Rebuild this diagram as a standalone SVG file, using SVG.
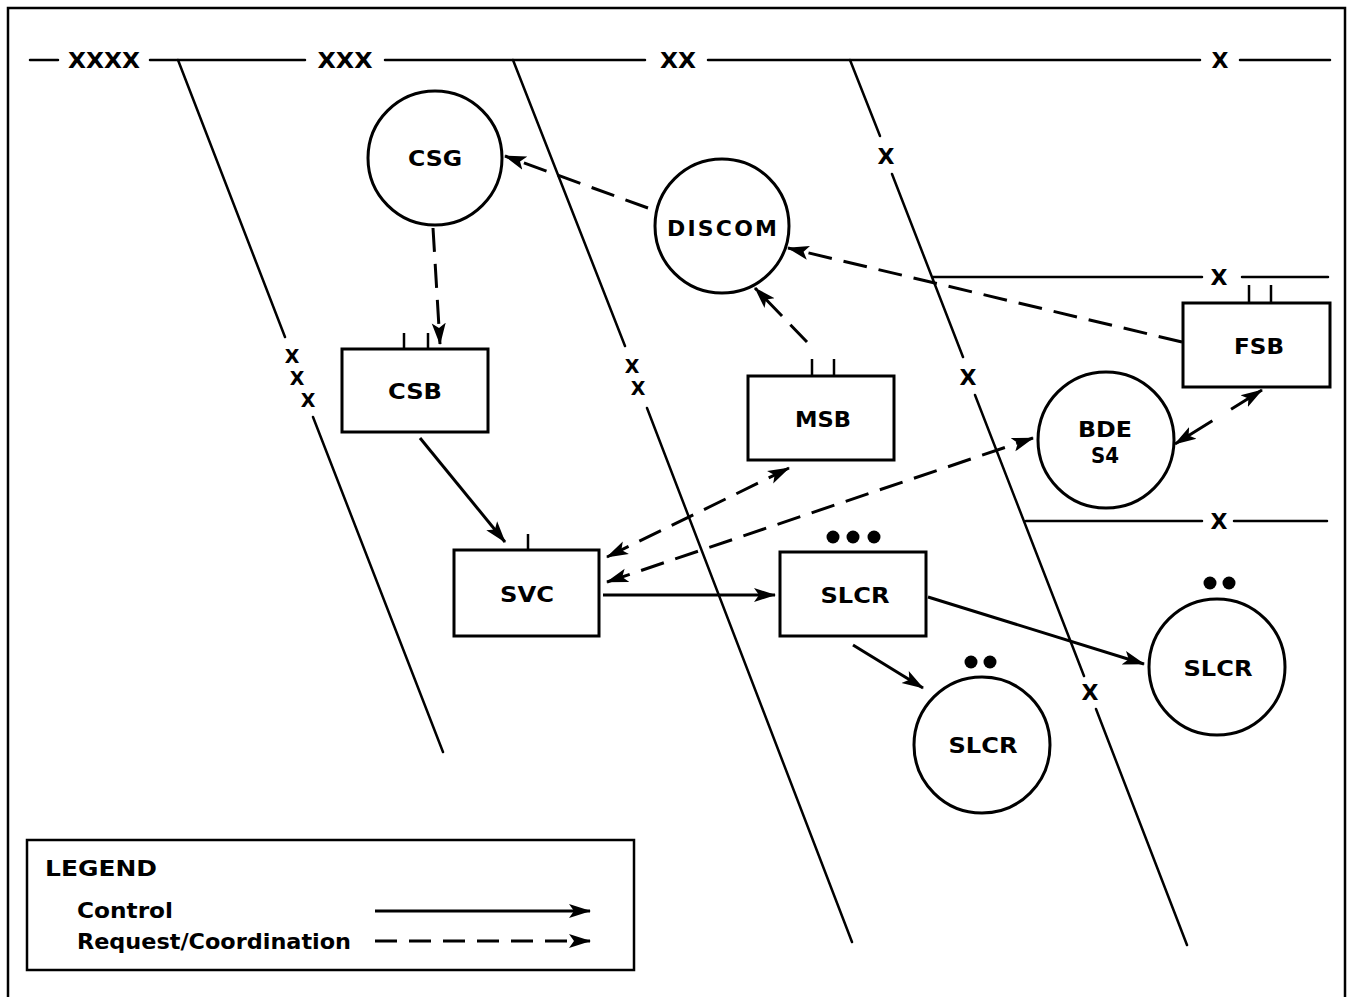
<svg xmlns="http://www.w3.org/2000/svg" width="1354" height="997" viewBox="0 0 1354 997">
<style>
.frame{fill:none;stroke:#000;stroke-width:2.5}
.bnd{fill:none;stroke:#000;stroke-width:2.5;stroke-linecap:round}
.node{fill:#fff;stroke:#000;stroke-width:3}
.tick{stroke:#000;stroke-width:2.5}
.dot{fill:#000}
.lbl{font-family:"DejaVu Sans","Liberation Sans",Arial,sans-serif;font-weight:bold;font-size:22px;text-anchor:middle;fill:#000}
.mk{font-family:"DejaVu Sans","Liberation Sans",Arial,sans-serif;font-weight:bold;font-size:22px;text-anchor:middle;fill:#000}
.mks{font-family:"DejaVu Sans","Liberation Sans",Arial,sans-serif;font-weight:bold;font-size:19px;text-anchor:middle;fill:#000}
.leg{font-family:"DejaVu Sans","Liberation Sans",Arial,sans-serif;font-weight:bold;font-size:21px;fill:#000}
.ctl{fill:none;stroke:#000;stroke-width:3;marker-end:url(#ah)}
.req{fill:none;stroke:#000;stroke-width:3;stroke-dasharray:24 12;marker-end:url(#ah)}
.req2{fill:none;stroke:#000;stroke-width:3;stroke-dasharray:24 12;marker-end:url(#ah);marker-start:url(#ah)}
</style>
<defs>
<marker id="ah" markerUnits="userSpaceOnUse" markerWidth="24" markerHeight="16" refX="21" refY="8" orient="auto-start-reverse" viewBox="0 0 24 16">
<path d="M0,1 L22,8 L0,15 L5,8 z" fill="#000"/>
</marker>
</defs>
<rect width="1354" height="997" fill="#fff"/>
<rect class="frame" x="8" y="8" width="1337" height="1010"/>

<g id="boundaries">
<line class="bnd" x1="30" y1="60" x2="58" y2="60"/>
<text class="mk" x="104" y="68" textLength="72" lengthAdjust="spacingAndGlyphs">XXXX</text>
<line class="bnd" x1="150" y1="60" x2="305" y2="60"/>
<text class="mk" x="345" y="68" textLength="55" lengthAdjust="spacingAndGlyphs">XXX</text>
<line class="bnd" x1="385" y1="60" x2="645" y2="60"/>
<text class="mk" x="678" y="68" textLength="36" lengthAdjust="spacingAndGlyphs">XX</text>
<line class="bnd" x1="708" y1="60" x2="1200" y2="60"/>
<text class="mk" x="1220" y="68">X</text>
<line class="bnd" x1="1240" y1="60" x2="1330" y2="60"/>

<line class="bnd" x1="178" y1="60" x2="285" y2="337"/>
<text class="mks" x="292" y="363">X</text>
<text class="mks" x="297" y="385">X</text>
<text class="mks" x="308" y="407">X</text>
<line class="bnd" x1="313" y1="417" x2="443" y2="752"/>

<line class="bnd" x1="513" y1="60" x2="625" y2="346"/>
<text class="mks" x="632" y="373">X</text>
<text class="mks" x="638" y="395">X</text>
<line class="bnd" x1="647" y1="408" x2="852" y2="942"/>

<line class="bnd" x1="850" y1="60" x2="880" y2="136"/>
<text class="mk" x="886" y="164">X</text>
<line class="bnd" x1="892" y1="174" x2="963" y2="357"/>
<text class="mk" x="968" y="385">X</text>
<line class="bnd" x1="975" y1="395" x2="1084" y2="676"/>
<text class="mk" x="1090" y="700">X</text>
<line class="bnd" x1="1096" y1="709" x2="1187" y2="945"/>

<line class="bnd" x1="933" y1="277" x2="1202" y2="277"/>
<text class="mk" x="1219" y="285">X</text>
<line class="bnd" x1="1242" y1="277" x2="1328" y2="277"/>
<line class="bnd" x1="1026" y1="521" x2="1202" y2="521"/>
<text class="mk" x="1219" y="529">X</text>
<line class="bnd" x1="1234" y1="521" x2="1327" y2="521"/>
</g>

<g id="connectors">
<path class="req" d="M433,228 L440,344"/>
<path class="req" d="M648,208 L505,156"/>
<path class="req" d="M807,342 L755,288"/>
<path class="req" d="M1182,342 L788,248"/>
<path class="ctl" d="M420,438 L505,542"/>
<path class="req2" d="M607,557 L789,468"/>
<path class="req2" d="M607,582 L1033,438"/>
<path class="req2" d="M1175,444 L1262,390" style="stroke-dasharray:44 22"/>
<path class="ctl" d="M603,595 L775,595"/>
<path class="ctl" d="M853,645 L923,688"/>
<path class="ctl" d="M928,597 L1144,664"/>
</g>

<g id="CSG">
<circle class="node" cx="435" cy="158" r="67"/>
<text class="lbl" x="435" y="166" textLength="54" lengthAdjust="spacingAndGlyphs">CSG</text>
</g>
<g id="DISCOM">
<circle class="node" cx="722" cy="226" r="67"/>
<text class="lbl" x="722" y="236" textLength="110" lengthAdjust="spacing">DISCOM</text>
</g>
<g id="CSB">
<line class="tick" x1="404" y1="333" x2="404" y2="349"/>
<line class="tick" x1="428" y1="333" x2="428" y2="349"/>
<rect class="node" x="342" y="349" width="146" height="83"/>
<text class="lbl" x="415" y="399" textLength="54" lengthAdjust="spacingAndGlyphs">CSB</text>
</g>
<g id="MSB">
<line class="tick" x1="812" y1="359" x2="812" y2="376"/>
<line class="tick" x1="834" y1="359" x2="834" y2="376"/>
<rect class="node" x="748" y="376" width="146" height="84"/>
<text class="lbl" x="823" y="427" textLength="56" lengthAdjust="spacingAndGlyphs">MSB</text>
</g>
<g id="FSB">
<line class="tick" x1="1249" y1="285" x2="1249" y2="303"/>
<line class="tick" x1="1271" y1="285" x2="1271" y2="303"/>
<rect class="node" x="1183" y="303" width="147" height="84"/>
<text class="lbl" x="1259" y="354" textLength="50" lengthAdjust="spacingAndGlyphs">FSB</text>
</g>
<g id="BDE-S4">
<circle class="node" cx="1106" cy="440" r="68"/>
<text class="lbl" x="1105" y="437" textLength="54" lengthAdjust="spacingAndGlyphs">BDE</text>
<text class="lbl" x="1105" y="463" textLength="28" lengthAdjust="spacingAndGlyphs">S4</text>
</g>
<g id="SVC">
<line class="tick" x1="528" y1="534" x2="528" y2="550"/>
<rect class="node" x="454" y="550" width="145" height="86"/>
<text class="lbl" x="527" y="602" textLength="54" lengthAdjust="spacingAndGlyphs">SVC</text>
</g>
<g id="SLCR-rect">
<circle class="dot" cx="833" cy="537" r="6.5"/>
<circle class="dot" cx="853" cy="537" r="6.5"/>
<circle class="dot" cx="874" cy="537" r="6.5"/>
<rect class="node" x="780" y="552" width="146" height="84"/>
<text class="lbl" x="855" y="603" textLength="69" lengthAdjust="spacingAndGlyphs">SLCR</text>
</g>
<g id="SLCR-right">
<circle class="dot" cx="1210" cy="583" r="6.5"/>
<circle class="dot" cx="1229" cy="583" r="6.5"/>
<circle class="node" cx="1217" cy="667" r="68"/>
<text class="lbl" x="1218" y="676" textLength="69" lengthAdjust="spacingAndGlyphs">SLCR</text>
</g>
<g id="SLCR-bottom">
<circle class="dot" cx="971" cy="662" r="6.5"/>
<circle class="dot" cx="990" cy="662" r="6.5"/>
<circle class="node" cx="982" cy="745" r="68"/>
<text class="lbl" x="983" y="753" textLength="69" lengthAdjust="spacingAndGlyphs">SLCR</text>
</g>

<g id="legend">
<rect class="node" x="27" y="840" width="607" height="130" style="stroke-width:2.5"/>
<text class="leg" x="45" y="876" textLength="112" lengthAdjust="spacingAndGlyphs">LEGEND</text>
<text class="leg" x="77" y="918" textLength="96" lengthAdjust="spacingAndGlyphs">Control</text>
<text class="leg" x="77" y="949" textLength="274" lengthAdjust="spacingAndGlyphs">Request/Coordination</text>
<path class="ctl" d="M375,911 L590,911"/>
<path class="req" d="M375,941 L590,941" style="stroke-dasharray:22 12"/>
</g>
</svg>
